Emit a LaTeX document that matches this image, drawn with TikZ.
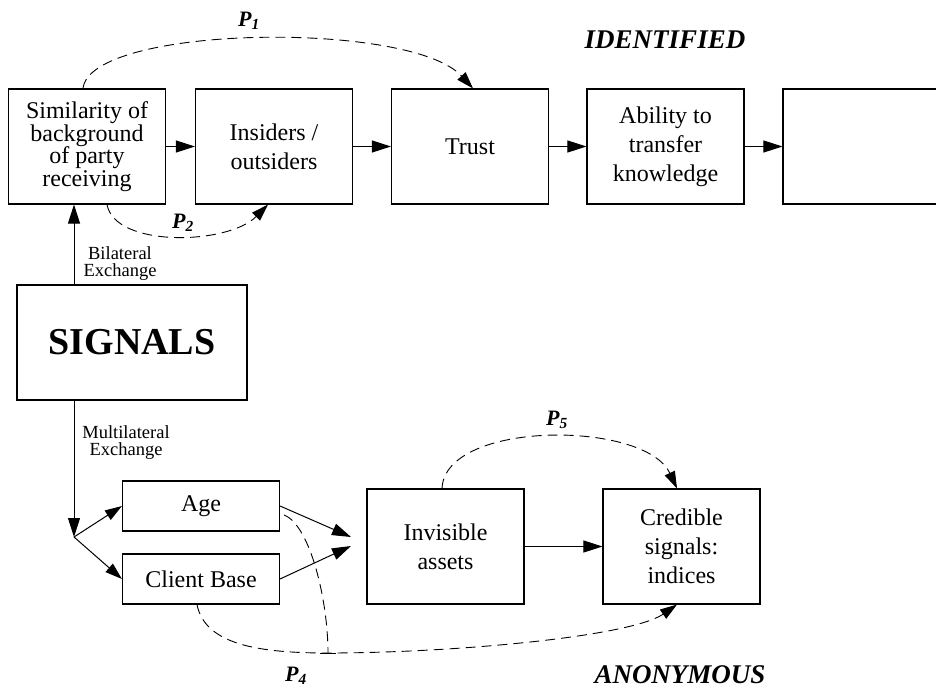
\documentclass[tikz,border=0pt]{standalone}
\usepackage{fontspec}
\setmainfont{Liberation Serif}
\usetikzlibrary{arrows.meta}
\begin{document}
\begin{tikzpicture}[x=1pt,y=-1pt,
  box/.style={draw,line width=1.1pt,inner sep=0pt,align=center,
    font=\fontsize{24}{29}\selectfont,minimum width=157pt,minimum height=115pt},
  smallbox/.style={box,minimum height=50pt},
  arr/.style={line width=1pt,-{Triangle[length=19pt,width=12pt]}},
  sarr/.style={line width=1pt,-{Triangle[length=17pt,width=11pt]}},
  dsh/.style={line width=0.9pt,dash pattern=on 10pt off 6pt},
  darr/.style={dsh,-{Triangle[length=17pt,width=11pt]}},
  plab/.style={font=\fontsize{22}{22}\selectfont\bfseries\itshape,inner sep=0pt},
  small/.style={font=\fontsize{18.5}{17}\selectfont,align=center,inner sep=0pt},
  big/.style={font=\fontsize{27}{27}\selectfont\bfseries\itshape,inner sep=0pt}
]
\clip (0,0) rectangle (936,690);
\fill[white] (0,0) rectangle (936,690);

% top row
\node[box,font=\fontsize{24}{22.5}\selectfont] (b1) at (87,146.5) {Similarity of\\background\\of party\\receiving};
\node[box] (b2) at (274,146.5) {Insiders /\\outsiders};
\node[box] (b3) at (470,146.5) {Trust};
\node[box] (b4) at (665.5,146.5) {Ability to\\transfer\\knowledge};
\node[box] (b5) at (861.5,146.5) {};

\draw[arr] (b1) -- (b2);
\draw[arr] (b2) -- (b3);
\draw[arr] (b3) -- (b4);
\draw[arr] (b4) -- (b5);

% signals
\node[box,minimum width=230pt,font=\fontsize{38}{38}\selectfont\bfseries] (sig) at (132,342.5) {SIGNALS};
\coordinate (vx) at (74,0);
\draw[arr] (vx |- sig.north) -- (vx |- b1.south);
\node[small] (bil) at (120,263.5) {Bilateral\\Exchange};

\coordinate (jn) at (74,537);
\draw[arr] (vx |- sig.south) -- (jn);
\node[small] (mul) at (126,442.5) {Multilateral\\Exchange};

% bottom row
\node[smallbox] (age) at (201,506) {Age};
\node[smallbox] (cb) at (201,579) {Client Base};
\node[box] (inv) at (445.5,546.5) {Invisible\\assets};
\node[box] (cred) at (681.5,546.5) {Credible\\signals:\\indices};

\draw[sarr] (jn) -- (age.west);
\draw[sarr] (jn) -- (cb.west);
\coordinate (t1) at (351,537);
\coordinate (t2) at (351,546);
\draw[arr] (age.east) -- (t1);
\draw[arr] (cb.east) -- (t2);
\draw[arr] (inv) -- (cred);

% dashed relations
\draw[darr] ([xshift=-4pt]b1.north) .. controls (90,25) and (410,20) .. ([xshift=3pt]b3.north);
\node[plab] (p1) at (249,21) {P\textsubscript{1}};

\draw[darr] ([xshift=20pt]b1.south) .. controls (115,248) and (228,245) .. ([xshift=-6pt]b2.south);
\node[plab] (p2) at (183,223) {P\textsubscript{2}};

\draw[darr] ([xshift=-3.5pt]inv.north) .. controls (445,420) and (645,420) .. ([xshift=-4.5pt]cred.north);
\node[plab] (p5) at (557,420) {P\textsubscript{5}};

\coordinate (meet) at (328,653);
\draw[dsh] ([xshift=4pt,yshift=-9pt]age.east) .. controls (310,525) and (328,600) .. (meet);
\draw[line width=1pt] ([xshift=-8pt]meet) -- ([xshift=8pt]meet);
\draw[darr] ([xshift=-4pt]cb.south) .. controls (205,645) and (260,653) .. (meet)
  .. controls (450,653) and (630,637) .. ([xshift=-4.5pt]cred.south);
\node[plab] (p4) at (296,676) {P\textsubscript{4}};

\node[big] (ident) at (665,40) {IDENTIFIED};
\node[big] (anon) at (680,675) {ANONYMOUS};
\end{tikzpicture}
\end{document}
